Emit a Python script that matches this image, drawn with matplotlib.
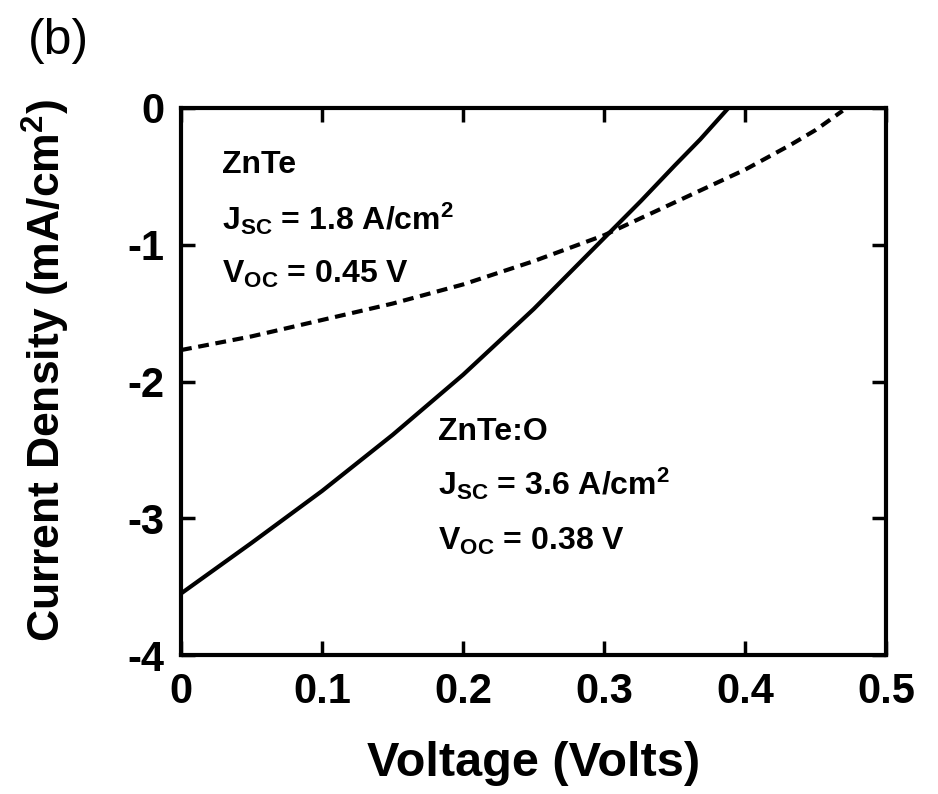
import numpy as np
import matplotlib
matplotlib.use("Agg")
import matplotlib.pyplot as plt

plt.rcParams['font.family'] = ['Liberation Sans', 'DejaVu Sans']
plt.rcParams['font.weight'] = 'bold'
plt.rcParams['mathtext.fontset'] = 'custom'
plt.rcParams['mathtext.rm'] = 'Liberation Sans:bold'
plt.rcParams['mathtext.bf'] = 'Liberation Sans:bold'
plt.rcParams['mathtext.it'] = 'Liberation Sans:bold'

# ZnTe:O cell (solid)
v_zno = [0.0, 0.05, 0.1, 0.15, 0.2, 0.25, 0.3, 0.326, 0.35, 0.368, 0.388]
j_zno = [-3.55, -3.18, -2.80, -2.39, -1.95, -1.47, -0.95, -0.68, -0.42, -0.23, 0.0]

# ZnTe cell (dashed)
v_zn = [0.0, 0.05, 0.1, 0.15, 0.2, 0.25, 0.3, 0.35, 0.4, 0.432, 0.45, 0.469]
j_zn = [-1.77, -1.67, -1.55, -1.43, -1.29, -1.12, -0.93, -0.69, -0.45, -0.27, -0.16, -0.02]

xticks = [0, 0.1, 0.2, 0.3, 0.4, 0.5]
xticklabels = ['0', '0.1', '0.2', '0.3', '0.4', '0.5']
yticks = [0, -1, -2, -3, -4]
yticklabels = ['0', '-1', '-2', '-3', '-4']

fig = plt.figure(figsize=(9.38, 7.94), dpi=100)
ax = fig.add_axes([0.193, 0.175, 0.752, 0.689])

ax.plot(v_zno, j_zno, 'k-', lw=3.0, solid_capstyle='butt')
ax.plot(v_zn, j_zn, 'k', lw=3.0, dashes=(2.6, 1.6))

ax.set_xlim(0, 0.5)
ax.set_ylim(-4, 0)
ax.set_xticks(xticks)
ax.set_xticklabels(xticklabels)
ax.set_yticks(yticks)
ax.set_yticklabels(yticklabels)
ax.tick_params(direction='in', length=10, width=2.5, labelsize=30,
               top=True, right=True, pad=12)
for s in ax.spines.values():
    s.set_linewidth(3)

ax.set_xlabel('Voltage (Volts)', fontsize=35, fontweight='bold', labelpad=21)
ax.set_ylabel('Current Density (mA/cm$^2$)', fontsize=32, fontweight='bold')
ax.yaxis.set_label_coords(-0.155, 0.52)

fig.text(0.03, 0.948, '(b)', fontsize=36, fontweight='normal', va='center')

fs = 23
ax.text(0.029, -0.475, 'ZnTe', fontsize=fs, fontweight='bold')
ax.text(0.029, -0.89, r'J$_{\mathrm{SC}}$ = 1.8 A/cm$^{2}$', fontsize=fs, fontweight='bold')
ax.text(0.029, -1.28, r'V$_{\mathrm{OC}}$ = 0.45 V', fontsize=fs, fontweight='bold')

ax.text(0.182, -2.43, 'ZnTe:O', fontsize=fs, fontweight='bold')
ax.text(0.182, -2.83, r'J$_{\mathrm{SC}}$ = 3.6 A/cm$^{2}$', fontsize=fs, fontweight='bold')
ax.text(0.182, -3.23, r'V$_{\mathrm{OC}}$ = 0.38 V', fontsize=fs, fontweight='bold')

fig.savefig('out.png', dpi=100)
